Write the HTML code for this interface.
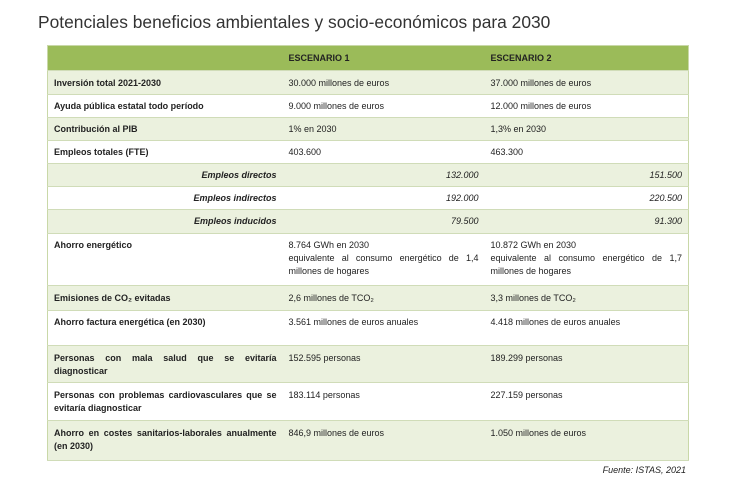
<!DOCTYPE html>
<html><head><meta charset="utf-8"><style>
body{margin:0;width:730px;height:503px;background:#fff;font-family:"Liberation Sans",sans-serif;color:#222;position:relative;overflow:hidden}
h1{position:absolute;left:38px;top:12px;margin:0;font-size:17.4px;font-weight:normal;color:#333;white-space:nowrap}
table{position:absolute;left:47px;top:45px;width:641px;border-collapse:collapse;font-size:9px;table-layout:fixed;border:1px solid #c9d8a8}
td{padding:0 6px;vertical-align:top;border-bottom:1px solid #d0dcb8;line-height:13px}
tr.g td{background:#ebf1de}
tr.h td{background:#9bbb59;font-weight:bold;vertical-align:middle}
td.l{font-weight:bold}
td.it{font-weight:bold;font-style:italic;text-align:right}
td.r{text-align:right;font-style:italic}
td.j{text-align:justify;text-align-last:left}
.f{position:absolute;left:540px;width:146px;top:465px;font-size:9px;font-style:italic;text-align:right}
</style></head><body>
<h1>Potenciales beneficios ambientales y socio-económicos para 2030</h1>
<table>
<colgroup><col style="width:235px"><col style="width:202px"><col style="width:204px"></colgroup>
<tr class="h" style="height:25px"><td></td><td>ESCENARIO 1</td><td>ESCENARIO 2</td></tr>
<tr class="g" style="height:24px"><td class="l" style="padding-top:6px">Inversión total 2021-2030</td><td style="padding-top:6px">30.000 millones de euros</td><td style="padding-top:6px">37.000 millones de euros</td></tr>
<tr style="height:23px"><td class="l" style="padding-top:5px">Ayuda pública estatal todo período</td><td style="padding-top:5px">9.000 millones de euros</td><td style="padding-top:5px">12.000 millones de euros</td></tr>
<tr class="g" style="height:23px"><td class="l" style="padding-top:5px">Contribución al PIB</td><td style="padding-top:5px">1% en 2030</td><td style="padding-top:5px">1,3% en 2030</td></tr>
<tr style="height:23px"><td class="l" style="padding-top:5px">Empleos totales (FTE)</td><td style="padding-top:5px">403.600</td><td style="padding-top:5px">463.300</td></tr>
<tr class="g" style="height:23px"><td class="it" style="padding-top:5px">Empleos directos</td><td class="r" style="padding-top:5px">132.000</td><td class="r" style="padding-top:5px">151.500</td></tr>
<tr style="height:23px"><td class="it" style="padding-top:5px">Empleos indirectos</td><td class="r" style="padding-top:5px">192.000</td><td class="r" style="padding-top:5px">220.500</td></tr>
<tr class="g" style="height:24px"><td class="it" style="padding-top:5px">Empleos inducidos</td><td class="r" style="padding-top:5px">79.500</td><td class="r" style="padding-top:5px">91.300</td></tr>
<tr style="height:52px"><td class="l" style="padding-top:5px">Ahorro energético</td><td class="j" style="padding-top:5px">8.764 GWh en 2030<br>equivalente al consumo energético de 1,4 millones de hogares</td><td class="j" style="padding-top:5px">10.872 GWh en 2030<br>equivalente al consumo energético de 1,7 millones de hogares</td></tr>
<tr class="g" style="height:25px"><td class="l" style="padding-top:6px">Emisiones de CO₂ evitadas</td><td style="padding-top:6px">2,6 millones de TCO₂</td><td style="padding-top:6px">3,3 millones de TCO₂</td></tr>
<tr style="height:35px"><td class="l" style="padding-top:5px">Ahorro factura energética (en 2030)</td><td style="padding-top:5px">3.561 millones de euros anuales</td><td style="padding-top:5px">4.418 millones de euros anuales</td></tr>
<tr class="g" style="height:37px"><td class="l j" style="padding-top:6px">Personas con mala salud que se evitaría diagnosticar</td><td style="padding-top:6px">152.595 personas</td><td style="padding-top:6px">189.299 personas</td></tr>
<tr style="height:38px"><td class="l j" style="padding-top:6px">Personas con problemas cardiovasculares que se evitaría diagnosticar</td><td style="padding-top:6px">183.114 personas</td><td style="padding-top:6px">227.159 personas</td></tr>
<tr class="g" style="height:40px"><td class="l j" style="padding-top:6px">Ahorro en costes sanitarios-laborales anualmente (en 2030)</td><td style="padding-top:6px">846,9 millones de euros</td><td style="padding-top:6px">1.050 millones de euros</td></tr>
</table>
<div class="f">Fuente: ISTAS, 2021</div>
</body></html>
